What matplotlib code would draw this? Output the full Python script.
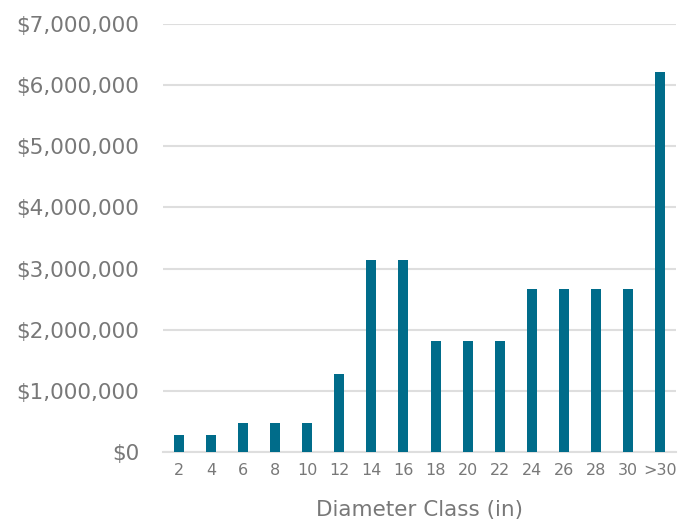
import matplotlib
matplotlib.use("Agg")
import matplotlib.pyplot as plt
from matplotlib.ticker import FuncFormatter, MultipleLocator

classes = ["2", "4", "6", "8", "10", "12", "14", "16", "18", "20",
           "22", "24", "26", "28", "30", ">30"]
values = [270000, 270000, 480000, 480000, 480000, 1280000, 3140000, 3140000,
          1820000, 1820000, 1820000, 2660000, 2660000, 2660000, 2660000, 6220000]

bar_color = "#006c8a"
text_color = "#787878"
grid_color = "#dedede"

plt.rcParams["font.family"] = ["DejaVu Sans"]

fig = plt.figure(figsize=(6.88, 5.24), dpi=100)
ax = fig.add_axes([163 / 688, 1 - 452 / 524, 513 / 688, (452 - 24) / 524])

x = range(len(classes))
ax.bar(x, values, width=0.31, color=bar_color, zorder=3)

ax.set_xlim(-0.5, len(classes) - 0.5)
ax.set_ylim(0, 7000000)
ax.yaxis.set_major_locator(MultipleLocator(1000000))
ax.yaxis.set_major_formatter(FuncFormatter(lambda v, p: f"${v:,.0f}"))
ax.set_xticks(list(x))
ax.set_xticklabels(classes)

ax.grid(axis="y", color=grid_color, linewidth=1.5, zorder=0)
for s in ["top", "right", "left"]:
    ax.spines[s].set_visible(False)
ax.spines["bottom"].set_color(grid_color)
ax.spines["bottom"].set_linewidth(1.5)

ax.tick_params(axis="both", length=0, colors=text_color)
ax.tick_params(axis="y", labelsize=15.5, pad=17)
ax.tick_params(axis="x", labelsize=11.5, pad=8)

ax.set_xlabel("Diameter Class (in)", color=text_color, fontsize=15.5, labelpad=16)

fig.savefig("out.png", dpi=100)
